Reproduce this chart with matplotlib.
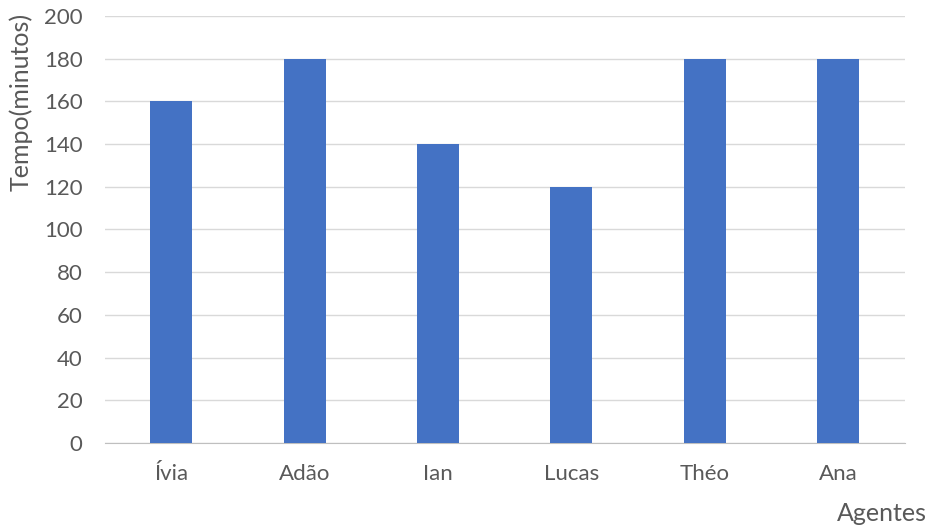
import matplotlib
matplotlib.use('Agg')
import matplotlib.pyplot as plt

agentes = ['Ívia', 'Adão', 'Ian', 'Lucas', 'Théo', 'Ana']
tempo = [160, 180, 140, 120, 180, 180]
yticks = [0, 20, 40, 60, 80, 100, 120, 140, 160, 180, 200]

plt.rcParams['font.family'] = ['Lato', 'DejaVu Sans']
txt = '#595959'

fig = plt.figure(figsize=(9.27, 5.28), dpi=100)
ax = fig.add_axes([0.113, 0.161, 0.863, 0.809])

x = list(range(len(agentes)))
ax.bar(x, tempo, width=0.315, color='#4472C4', zorder=3)

ax.set_xlim(-0.5, len(agentes) - 0.5)
ax.set_ylim(0, 200)
ax.set_yticks(yticks)
ax.set_xticks(x)
ax.set_xticklabels(agentes)
ax.yaxis.grid(True, color='#d9d9d9', linewidth=1, zorder=0)
for s in ['top', 'right', 'left']:
    ax.spines[s].set_visible(False)
ax.spines['bottom'].set_color('#bfbfbf')
ax.tick_params(axis='both', length=0, labelsize=16, colors=txt)
ax.tick_params(axis='x', pad=15)
ax.tick_params(axis='y', pad=16)

fig.text(0.951, 0.006, 'Agentes', ha='center', va='bottom', fontsize=18, color=txt)
fig.text(0.022, 0.807, 'Tempo(minutos)', ha='center', va='center', rotation=90, fontsize=18, color=txt)

fig.savefig('out.png', dpi=100)
